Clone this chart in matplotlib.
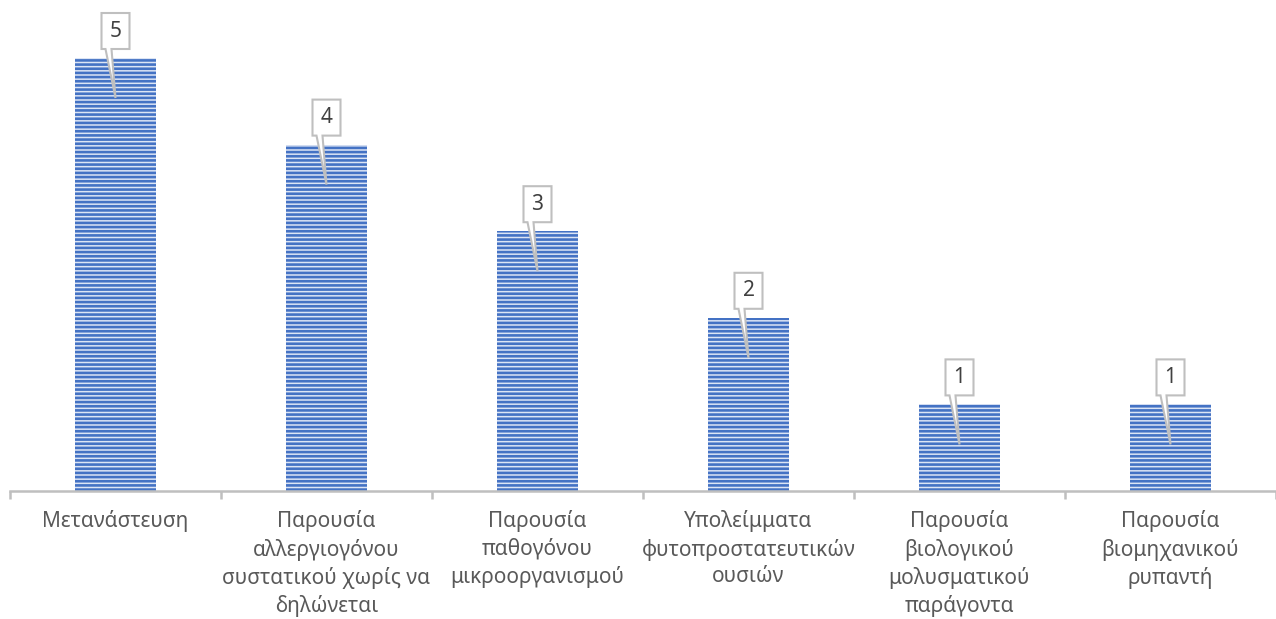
import numpy as np
import matplotlib
matplotlib.use("Agg")
import matplotlib.pyplot as plt
from matplotlib.patches import Polygon
from matplotlib.transforms import Affine2D

plt.rcParams['font.family'] = ['Noto Sans', 'DejaVu Sans']
plt.rcParams['hatch.color'] = '#4472C4'
plt.rcParams['hatch.linewidth'] = 1.9

categories = [
    "Μετανάστευση",
    "Παρουσία\nαλλεργιογόνου\nσυστατικού χωρίς να\nδηλώνεται",
    "Παρουσία\nπαθογόνου\nμικροοργανισμού",
    "Υπολείμματα\nφυτοπροστατευτικών\nουσιών",
    "Παρουσία\nβιολογικού\nμολυσματικού\nπαράγοντα",
    "Παρουσία\nβιομηχανικού\nρυπαντή",
]
values = [5, 4, 3, 2, 1, 1]

W, H = 1276, 619
fig = plt.figure(figsize=(W / 100, H / 100), dpi=100)
# axes placed in pixels: left 10, right 1276, bottom (y=491 from top), top y=5
ax = fig.add_axes([10 / W, (H - 491) / H, 1266 / W, 486 / H])

x = np.arange(len(values))
ax.bar(x, values, width=0.38, color='#DCE5F5', edgecolor='#4472C4',
       linewidth=0, hatch='----', zorder=2)

ax.set_xlim(-0.5, len(values) - 0.5)
ax.set_ylim(0, 486 / 86.6)
ax.set_yticks([])
for s in ['top', 'right', 'left']:
    ax.spines[s].set_visible(False)
ax.spines['bottom'].set_color('#BFBFBF')
ax.spines['bottom'].set_linewidth(1.8)
ax.set_xticks(np.arange(len(values) + 1) - 0.5, minor=True)
ax.set_xticks(x)
ax.set_xticklabels(categories, fontsize=15, color='#595959', linespacing=1.36,
                   va='top')
ax.tick_params(axis='x', which='major', length=0, pad=14)
ax.tick_params(axis='x', which='minor', length=6, width=1.8, color='#BFBFBF')

# callout labels
fig.canvas.draw()
for xi, v in zip(x, values):
    px, py = ax.transData.transform((xi, v))
    hw = 14
    b0, b1 = 9, 45
    shape = [(-hw, b1), (hw, b1), (hw, b0), (-4, b0), (0, -40), (-10, b0), (-hw, b0)]
    tr = Affine2D().translate(px, py)
    poly = Polygon(shape, closed=True, facecolor='white', edgecolor='#BFBFBF',
                   linewidth=1.5, transform=tr, zorder=5)
    fig.add_artist(poly)
    tx, ty = px / W, (py + (b0 + b1) / 2) / H
    fig.text(tx, ty, str(v), ha='center', va='center', fontsize=15,
             color='#404040', zorder=6)

fig.savefig('out.png', dpi=100)
